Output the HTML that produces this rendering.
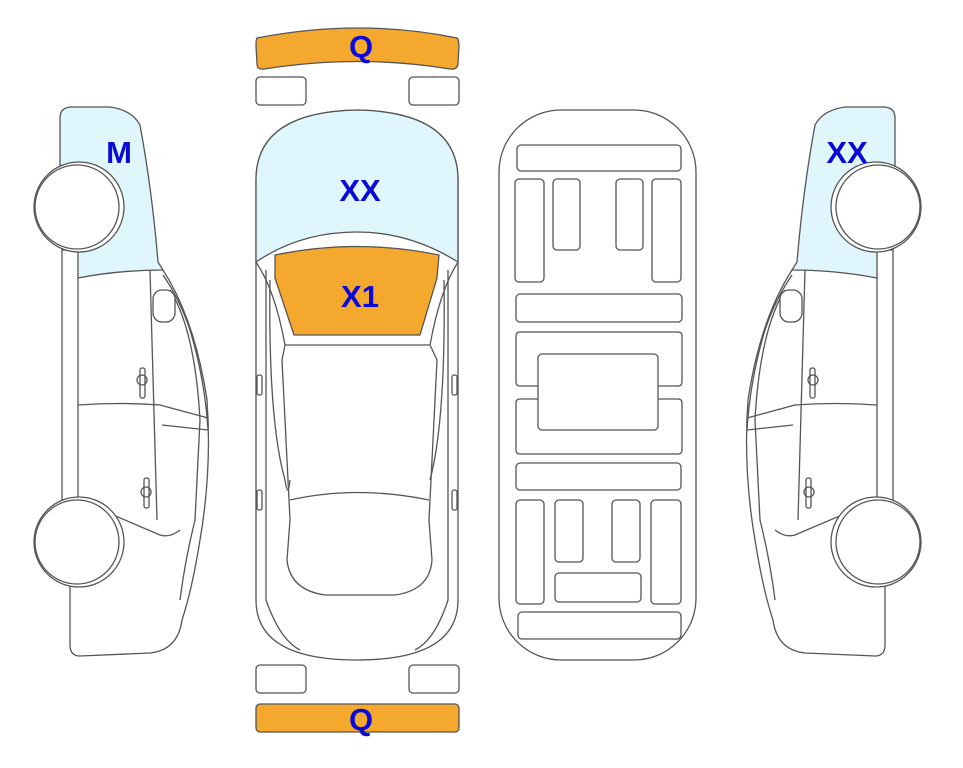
<!DOCTYPE html>
<html><head><meta charset="utf-8"><style>
html,body{margin:0;padding:0;background:#fff;}
svg{display:block;}
text{font-family:"Liberation Sans",sans-serif;font-weight:bold;fill:#0a0ad8;text-anchor:middle;}
</style></head><body>
<svg width="963" height="768" viewBox="0 0 963 768" xmlns="http://www.w3.org/2000/svg">
<defs>
<g id="side" fill="none" stroke="#555" stroke-width="1.3">
  <path d="M60 165 L60 118 Q60 107 72 107 L110 107 Q132 110 140 125 Q152 190 158 262 L163 270 Q120 270 78 278 L78 250 L62 250 Z" fill="#dff6fc"/>
  <path d="M163 270 Q195 320 207 400 Q212 470 200 540 Q192 590 182 620 Q178 650 150 653 L80 656 Q70 656 70 645 L70 585" />
  <path d="M62 250 L62 500 L78 500"/>
  <line x1="78" y1="278" x2="78" y2="500"/>
  <path d="M150 270 L157 520"/>
  <path d="M163 275 Q180 300 190 330 Q205 380 208 430"/>
  <path d="M170 290 Q195 330 200 420 L195 520 Q185 560 180 600"/>
  <path d="M78 405 Q120 402 160 405 L208 418"/>
  <path d="M162 425 L208 430"/>
  <path d="M78 500 L160 535 Q170 538 180 530"/>
  <rect x="153" y="290" width="22" height="32" rx="9" fill="#fff"/>
  <rect x="140" y="368" width="5" height="30" rx="2"/>
  <circle cx="142" cy="380" r="5"/>
  <rect x="144" y="478" width="5" height="30" rx="2"/>
  <circle cx="146" cy="492" r="5"/>
  <circle cx="79" cy="207" r="45" fill="#fff"/>
  <circle cx="77" cy="207" r="42" fill="#fff"/>
  <circle cx="79" cy="542" r="45" fill="#fff"/>
  <circle cx="77" cy="542" r="42" fill="#fff"/>
</g>
</defs>
<use href="#side"/>
<use href="#side" transform="translate(955,0) scale(-1,1)"/>

<g fill="none" stroke="#555" stroke-width="1.3">
  <path d="M257 38 Q360 18 457 38 Q459 40 459 46 L458 64 Q457 70 450 69 Q360 54 264 69 Q257 70 257 64 L256 46 Q256 39 257 38 Z" fill="#f5a82e"/>
  <rect x="256" y="77" width="50" height="28" rx="4"/>
  <rect x="409" y="77" width="50" height="28" rx="4"/>
  <rect x="256" y="665" width="50" height="28" rx="4"/>
  <rect x="409" y="665" width="50" height="28" rx="4"/>
  <rect x="256" y="704" width="203" height="28" rx="4" fill="#f5a82e"/>
  <path d="M256 262 L256 180 Q256 112 357 110 Q458 112 458 180 L458 600 Q458 660 357 660 Q256 660 256 600 Z" fill="#fff"/>
  <path d="M256 262 L256 180 Q256 112 357 110 Q458 112 458 180 L458 262 Q410 232 357 232 Q300 232 256 262 Z" fill="#dff6fc"/>
  <path d="M275 245 Q357 228 439 245 L437 268 L420 325 L418 325 L295 325 L294 325 L275 268 Z" transform="translate(0,10)" fill="#f5a82e"/>
  <path d="M285 345 L430 345 L437 360 L429 520 L432 560 Q430 590 395 595 L325 595 Q290 590 287 560 L290 520 L282 360 Z"/>
  <path d="M290 500 Q357 485 429 500"/>
  <path d="M256 262 Q275 290 285 345"/>
  <path d="M458 262 Q440 290 430 345"/>
  <path d="M266 270 L266 600 Q280 640 300 650"/>
  <path d="M448 270 L448 600 Q435 640 415 650"/>
  <path d="M270 280 Q268 420 285 480 Q288 500 290 480"/>
  <path d="M444 280 Q446 420 430 480"/>
  <rect x="257" y="375" width="5" height="20" rx="2"/>
  <rect x="452" y="375" width="5" height="20" rx="2"/>
  <rect x="257" y="490" width="5" height="20" rx="2"/>
  <rect x="452" y="490" width="5" height="20" rx="2"/>
</g>

<g fill="none" stroke="#555" stroke-width="1.3">
  <rect x="499" y="110" width="197" height="550" rx="62"/>
  <rect x="517" y="145" width="164" height="26" rx="4"/>
  <rect x="515" y="179" width="29" height="103" rx="4"/>
  <rect x="553" y="179" width="27" height="71" rx="4"/>
  <rect x="616" y="179" width="27" height="71" rx="4"/>
  <rect x="652" y="179" width="29" height="103" rx="4"/>
  <rect x="516" y="294" width="166" height="28" rx="4"/>
  <path d="M538 386 L520 386 Q516 386 516 382 L516 336 Q516 332 520 332 L678 332 Q682 332 682 336 L682 382 Q682 386 678 386 L658 386"/>
  <path d="M538 399 L520 399 Q516 399 516 403 L516 450 Q516 454 520 454 L678 454 Q682 454 682 450 L682 403 Q682 399 678 399 L658 399"/>
  <rect x="538" y="354" width="120" height="76" rx="4"/>
  <rect x="516" y="463" width="165" height="27" rx="4"/>
  <rect x="516" y="500" width="28" height="104" rx="4"/>
  <rect x="555" y="500" width="28" height="62" rx="4"/>
  <rect x="612" y="500" width="28" height="62" rx="4"/>
  <rect x="651" y="500" width="30" height="104" rx="4"/>
  <rect x="555" y="573" width="86" height="29" rx="4"/>
  <rect x="518" y="612" width="163" height="27" rx="4"/>
</g>

<g font-size="31">
<text x="361" y="57">Q</text>
<text x="119" y="163">M</text>
<text x="360" y="201">XX</text>
<text x="360" y="307">X1</text>
<text x="847" y="163">XX</text>
<text x="361" y="730">Q</text>
</g>
</svg>
</body></html>
